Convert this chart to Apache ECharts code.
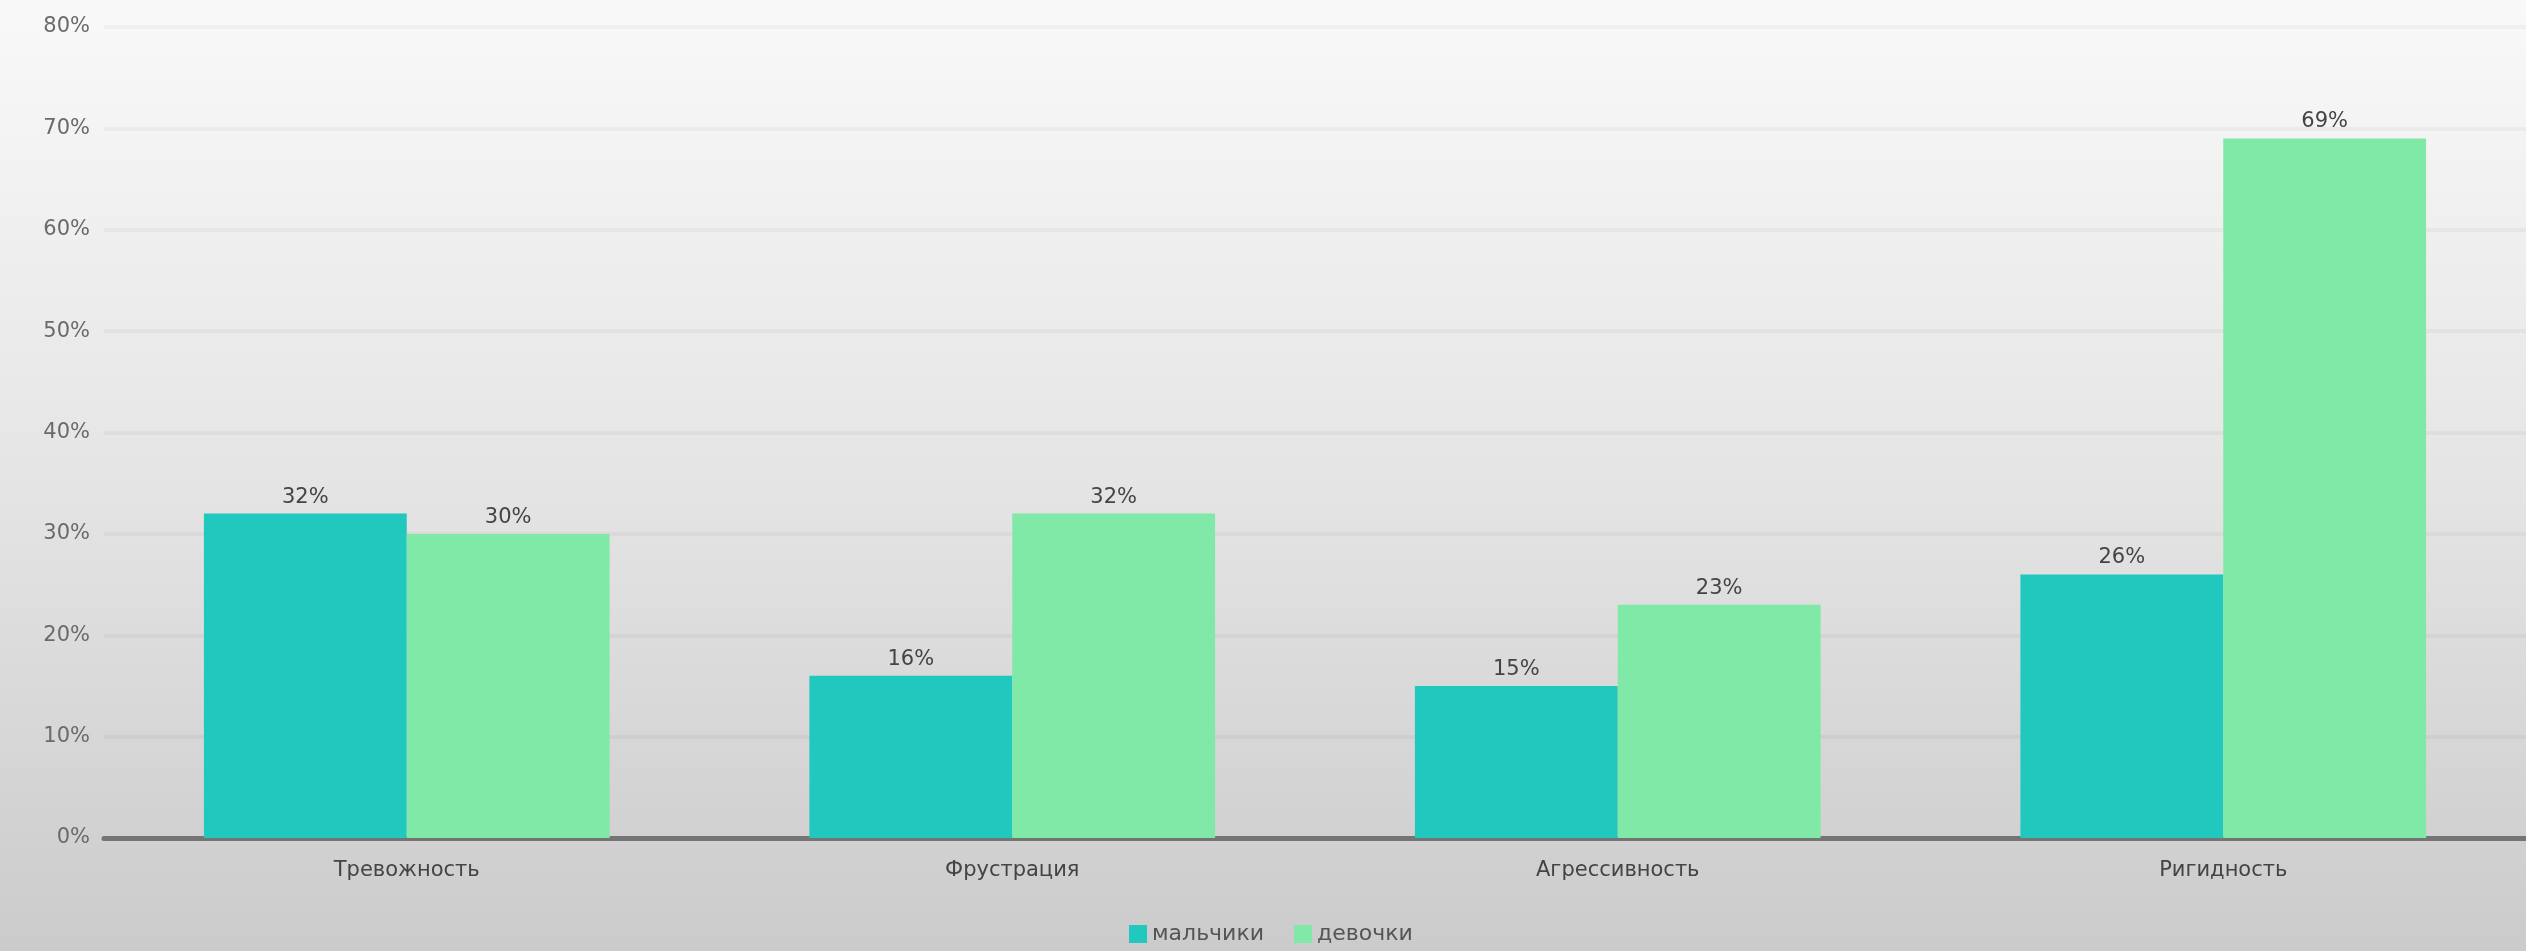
<!DOCTYPE html>
<html>
<head>
<meta charset="utf-8">
<script src="https://cdn.jsdelivr.net/npm/echarts@6/dist/echarts.min.js"></script>
<style>html,body{margin:0;padding:0;}#c{width:2526px;height:951px;}</style>
</head>
<body>
<div id="c"></div>
<script>
const categories = ['Тревожность', 'Фрустрация', 'Агрессивность', 'Ригидность'];
const seriesNames = ['мальчики', 'девочки'];
const boys = [32, 16, 15, 26];
const girls = [30, 32, 23, 69];
const yTicks = [0, 10, 20, 30, 40, 50, 60, 70, 80];

const chart = echarts.init(document.getElementById('c'));
const font = 'DejaVu Sans';
chart.setOption({
  backgroundColor: {
    type: 'linear', x: 0, y: 0, x2: 0, y2: 1,
    colorStops: [
      { offset: 0, color: '#f9f9f9' },
      { offset: 0.5, color: '#e5e5e5' },
      { offset: 1, color: '#cbcbcb' }
    ]
  },
  textStyle: { fontFamily: font },
  grid: { left: 104, right: 0, top: 27, bottom: 113, containLabel: false },
  legend: {
    data: seriesNames,
    left: 1124,
    top: 918,
    itemWidth: 18,
    itemHeight: 18,
    itemGap: 30,
    icon: 'rect',
    textStyle: { fontFamily: font, fontSize: 22, color: '#555' }
  },
  xAxis: {
    type: 'category',
    data: categories,
    axisLine: { lineStyle: { color: '#747474', width: 5 } },
    axisTick: { show: false },
    axisLabel: { fontFamily: font, fontSize: 21, color: '#444', margin: 22 },
    splitLine: { show: false }
  },
  yAxis: {
    type: 'value',
    min: yTicks[0],
    max: yTicks[yTicks.length - 1],
    interval: 10,
    axisLine: { show: false },
    axisTick: { show: false },
    axisLabel: { fontFamily: font, fontSize: 21, color: '#6a6a6a', margin: 14, formatter: '{value}%' },
    splitLine: { lineStyle: { color: 'rgba(0,0,0,0.035)', width: 4 } }
  },
  series: [
    {
      name: seriesNames[0], type: 'bar', data: boys,
      barGap: '0%', barCategoryGap: '33%',
      itemStyle: { color: '#20c8be' },
      label: { show: true, position: 'top', distance: 6, formatter: '{c}%', fontFamily: font, fontSize: 21, color: '#444' }
    },
    {
      name: seriesNames[1], type: 'bar', data: girls,
      barGap: '0%', barCategoryGap: '33%',
      itemStyle: { color: '#80e9a8' },
      label: { show: true, position: 'top', distance: 6, formatter: '{c}%', fontFamily: font, fontSize: 21, color: '#444' }
    }
  ]
});
</script>
</body>
</html>
